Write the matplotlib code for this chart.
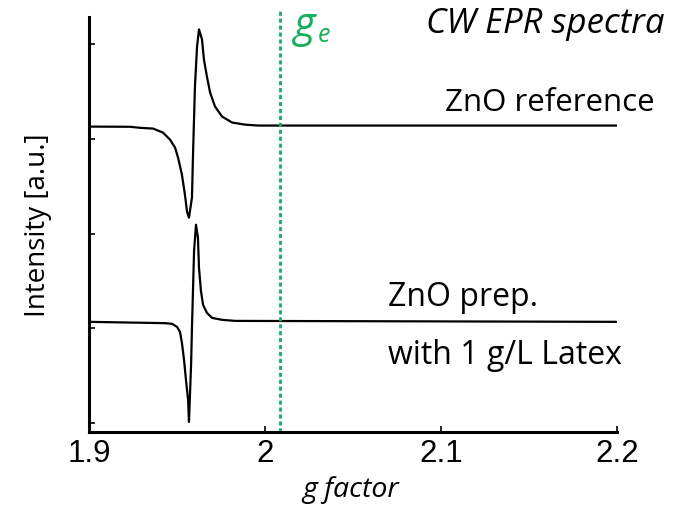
import matplotlib
matplotlib.use("Agg")
import matplotlib.pyplot as plt

# g values and intensities
g_ref = [1.9, 1.9233, 1.9290, 1.9364, 1.9420, 1.9460, 1.9489, 1.9506, 1.9528,
         1.9545, 1.9557, 1.9568, 1.9585, 1.9591, 1.9602, 1.9614, 1.9625, 1.9642,
         1.9653, 1.9670, 1.9688, 1.9716, 1.9756, 1.9813, 1.9886, 1.9960, 2.2]
i_ref = [3.132, 3.130, 3.119, 3.111, 3.069, 2.995, 2.910, 2.804, 2.624,
         2.413, 2.233, 2.169, 2.381, 2.836, 3.556, 3.979, 4.159, 4.053,
         3.841, 3.661, 3.492, 3.344, 3.238, 3.175, 3.153, 3.143, 3.143]

g_prep = [1.9, 1.9432, 1.9472, 1.9500, 1.9517, 1.9528, 1.9540, 1.9551, 1.9563,
          1.9568, 1.9580, 1.9585, 1.9597, 1.9608, 1.9619, 1.9625, 1.9636, 1.9648,
          1.9670, 1.9699, 1.9756, 1.9830, 2.2]
i_prep = [1.069, 1.055, 1.048, 1.016, 0.963, 0.847, 0.667, 0.455, 0.243,
          0.011, 0.614, 1.005, 1.820, 2.095, 1.958, 1.640, 1.397, 1.249,
          1.164, 1.111, 1.090, 1.079, 1.069]

g_e = 2.0085
xticks = [1.9, 2.0, 2.1, 2.2]
xticklabels = ["1.9", "2", "2.1", "2.2"]
yticks = [0, 1, 2, 3, 4]

green = "#16b05a"
txt_font = ["Open Sans", "DejaVu Sans"]
W, H = 687, 509


def fx(px):
    return px / W


def fy(py):
    return 1 - py / H


fig = plt.figure(figsize=(6.87, 5.09), dpi=100)
ax = fig.add_axes([fx(89), fy(432), fx(617) - fx(89), fy(17) - fy(432)])

ax.plot(g_ref, i_ref, color="black", lw=1.6, solid_joinstyle="round")
ax.plot(g_prep, i_prep, color="black", lw=1.6, solid_joinstyle="round")
ax.axvline(g_e, ymin=0, ymax=1.02, color=green, lw=2, ls=(0, (1.5, 1)), clip_on=False)

ax.set_xlim(1.9, 2.2)
ax.set_ylim(-0.095, 4.29)

ax.spines["top"].set_visible(False)
ax.spines["right"].set_visible(False)
ax.spines["left"].set_linewidth(2.2)
ax.spines["bottom"].set_linewidth(2.2)

ax.set_xticks(xticks)
ax.set_xticklabels(xticklabels, fontfamily="Liberation Sans", fontsize=22.5)
ax.set_yticks(yticks)
ax.set_yticklabels([])
ax.tick_params(direction="in", length=4, width=1.2, pad=5)

fig.text(fx(351), fy(490), "g factor", fontfamily=txt_font, fontsize=20.5,
         style="italic", ha="center", va="center")
fig.text(fx(38), fy(225), "Intensity [a.u.]", fontfamily=txt_font, fontsize=20,
         rotation=90, ha="center", va="center")

fig.text(fx(665), fy(24), "CW EPR spectra", fontfamily=txt_font, fontsize=25,
         style="italic", ha="right", va="center")
fig.text(fx(655), fy(103), "ZnO reference", fontfamily=txt_font, fontsize=22.5,
         ha="right", va="center")
fig.text(fx(388), fy(298), "ZnO prep.", fontfamily=txt_font, fontsize=23,
         ha="left", va="center")
fig.text(fx(388), fy(355), "with 1 g/L Latex", fontfamily=txt_font, fontsize=23,
         ha="left", va="center")

# g_e label: italic g with a small e below right
fig.text(fx(294), fy(26), "g", color=green, fontfamily=txt_font, fontsize=30,
         style="italic", ha="left", va="center")
fig.text(fx(318), fy(36), "e", color=green, fontfamily=txt_font, fontsize=18,
         style="italic", ha="left", va="center")

fig.savefig("out.png", dpi=100)
